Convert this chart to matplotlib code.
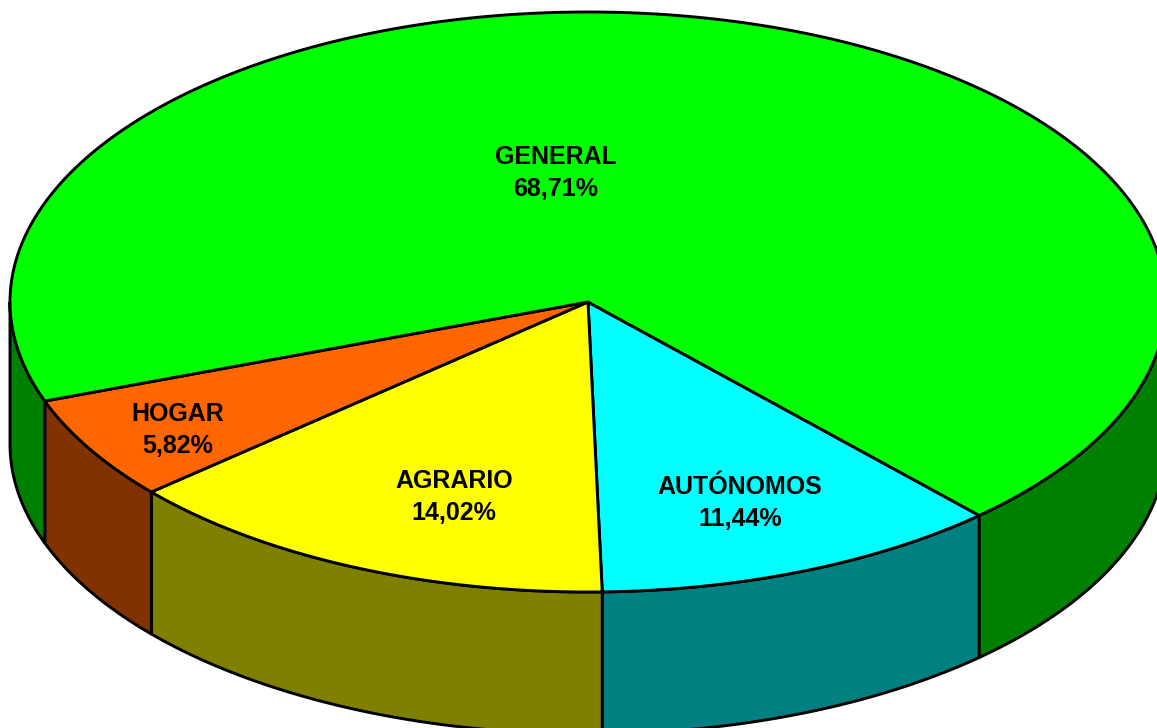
import numpy as np
import matplotlib
matplotlib.use('Agg')
import matplotlib.pyplot as plt
from matplotlib.patches import Polygon

# data
labels = ['AUTÓNOMOS', 'AGRARIO', 'HOGAR', 'GENERAL']
values = [11.44, 14.02, 5.82, 68.71]
top_colors = ['#00FFFF', '#FFFF00', '#FF6600', '#00FF00']
side_colors = ['#008080', '#808000', '#803300', '#008000']

# layout (pixels)
W, H = 1157, 728
cx, cy = 588, 302
rx, ry = 578, 290
depth = 142
start_angle = -47.4  # degrees, slices run clockwise
label_pos = [(740, 503), (454, 497), (178, 430), (556, 173)]


def ellipse_pt(t_deg, dy=0):
    t = np.radians(t_deg)
    return cx + rx * np.cos(t), cy - ry * np.sin(t) + dy


fig = plt.figure(figsize=(W / 100, H / 100), dpi=100)
ax = fig.add_axes([0, 0, 1, 1])
ax.set_xlim(0, W)
ax.set_ylim(H, 0)
ax.axis('off')

total = sum(values)
spans = [v / total * 360 for v in values]
bounds = []
a = start_angle
for s in spans:
    bounds.append((a - s, a))
    a -= s

# side walls (front half only: -180..0)
for (t0, t1), col in zip(bounds, side_colors):
    for k in (-1, 0, 1):
        lo = max(t0 + 360 * k, -180)
        hi = min(t1 + 360 * k, 0)
        if hi <= lo:
            continue
        ts = np.linspace(lo, hi, 200)
        top = [ellipse_pt(t) for t in ts]
        bot = [ellipse_pt(t, depth) for t in ts[::-1]]
        ax.add_patch(Polygon(top + bot, closed=True, facecolor=col,
                             edgecolor='black', lw=2.1, joinstyle='round'))

# top faces
for (t0, t1), col in zip(bounds, top_colors):
    ts = np.linspace(t0, t1, 400)
    pts = [(cx, cy)] + [ellipse_pt(t) for t in ts]
    ax.add_patch(Polygon(pts, closed=True, facecolor=col,
                         edgecolor='black', lw=2.1, joinstyle='round'))

for lab, v, (x, y) in zip(labels, values, label_pos):
    txt = lab + '\n' + f'{v:.2f}'.replace('.', ',') + '%'
    ax.text(x, y, txt, ha='center', va='center', fontsize=18,
            fontweight='bold', family='Liberation Sans', linespacing=1.4)

fig.savefig('out.png', dpi=100, facecolor='white')
